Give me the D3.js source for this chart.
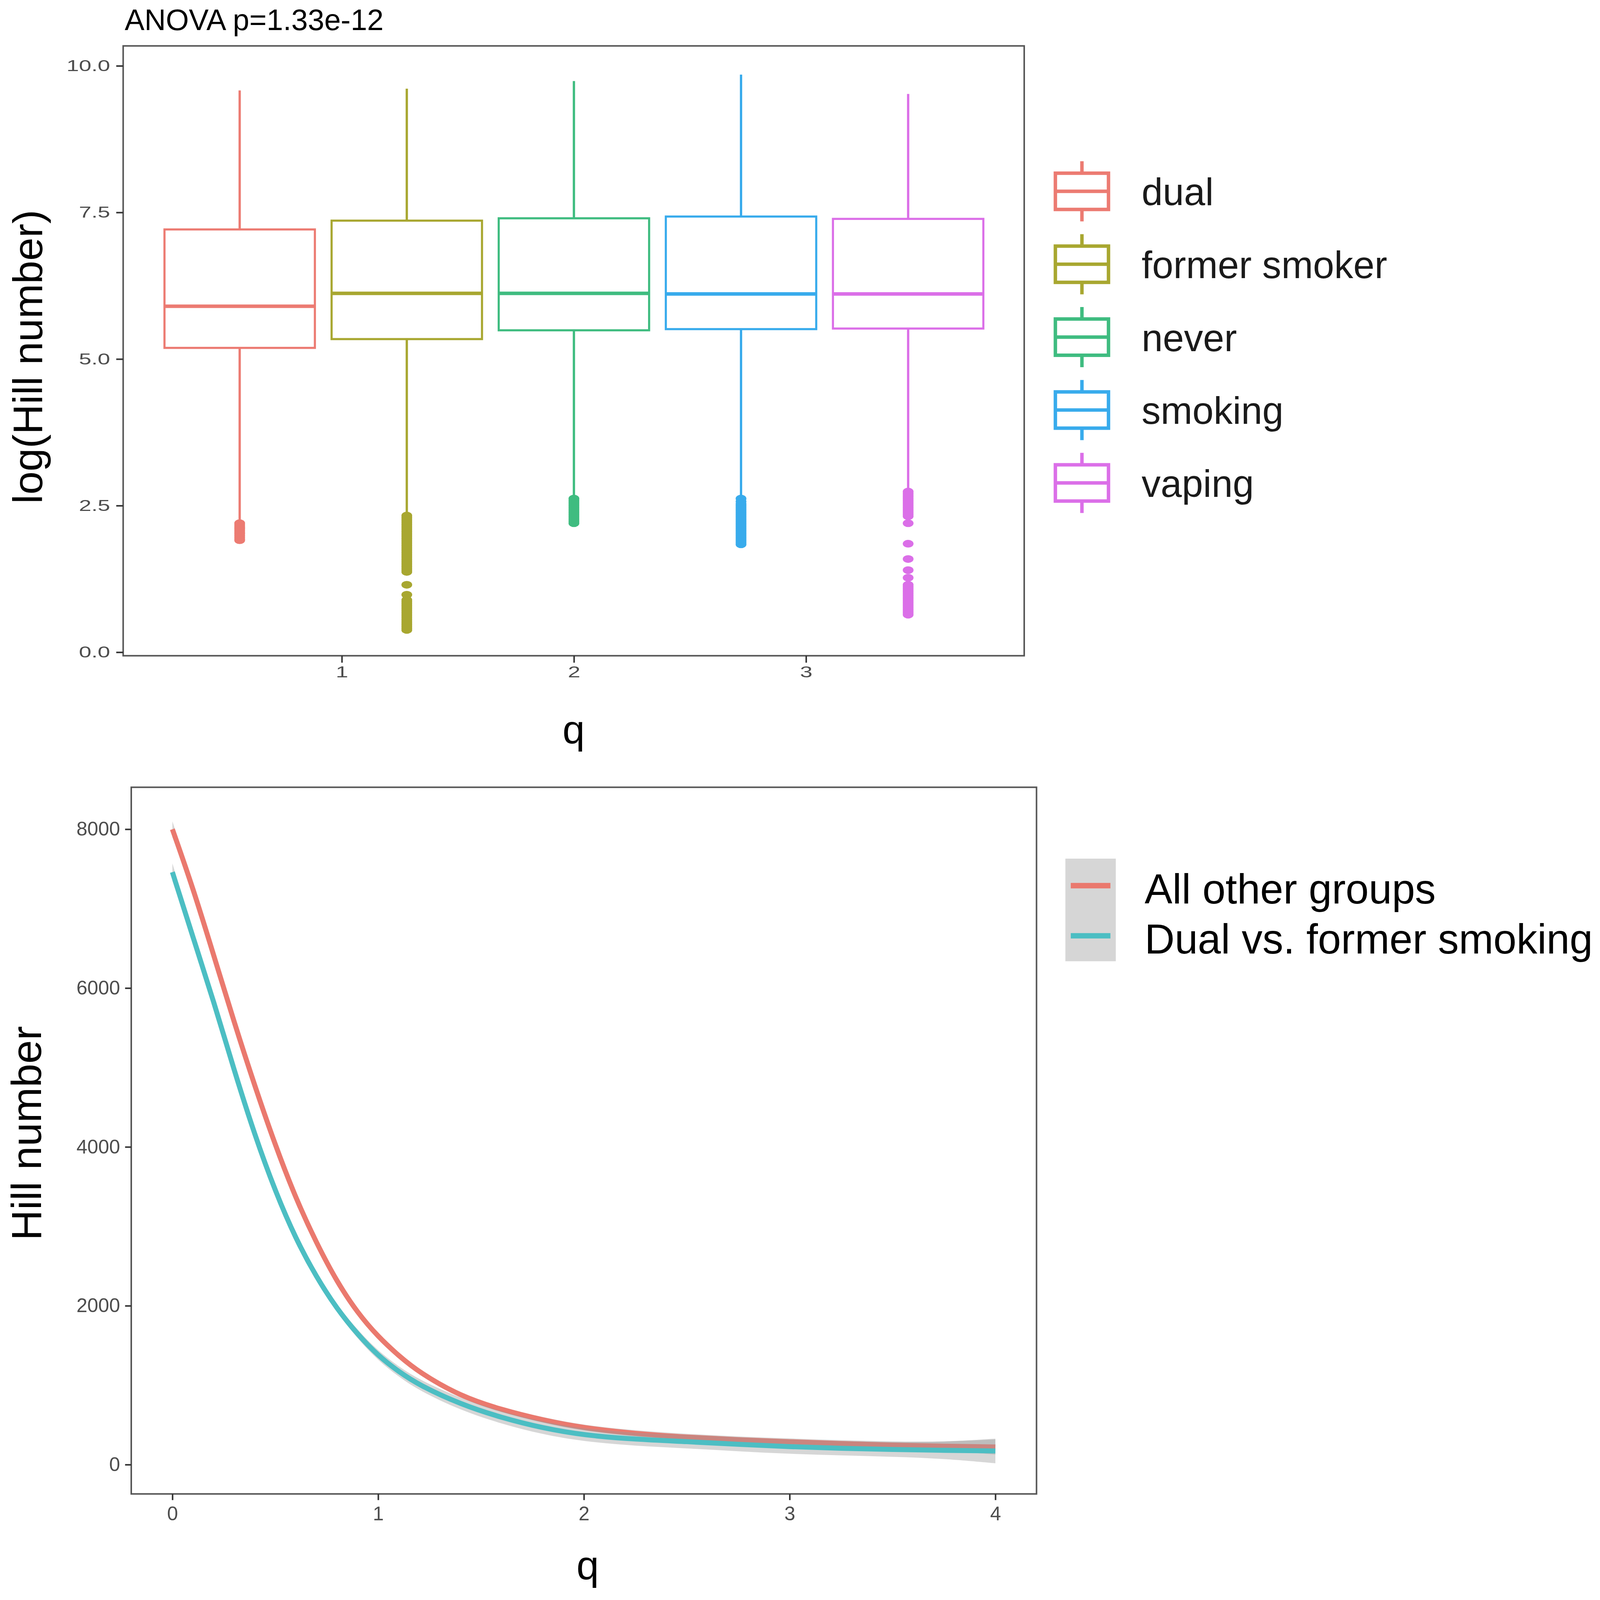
<!DOCTYPE html>
<html lang='en'>
	<head>
		<title>Hill numbers by group</title>
		<script type='text/javascript' src='https://cdn.jsdelivr.net/npm/d3@7/dist/d3.min.js'></script>
		<style>
			html, body { margin: 0; padding: 0; overflow: hidden; background: #ffffff; }
			svg { display: block; }
			text { font-family: 'Liberation Sans', Arial, Helvetica, sans-serif; }
		</style>
	</head>
	<body>
			<script type='text/javascript'>
			// ---- data: top panel (boxplots of log Hill number) ----
			var groups = ['dual', 'former smoker', 'never', 'smoking', 'vaping'];
			var groupColors = ['#EC7B72', '#A8A730', '#3FBC80', '#38ABEC', '#DB6FE8'];
			var boxHigh = [9.58, 9.61, 9.74, 9.85, 9.52];
			var boxQ3 = [7.21, 7.36, 7.40, 7.43, 7.39];
			var boxMed = [5.90, 6.12, 6.12, 6.11, 6.11];
			var boxQ1 = [5.19, 5.34, 5.49, 5.51, 5.52];
			var boxLow = [2.22, 2.38, 2.64, 2.64, 2.76];
			var outliers = [
				[2.20, 2.17, 2.14, 2.12, 2.10, 2.07, 2.04, 2.02, 1.99, 1.96, 1.93, 1.91],
				[2.33, 2.30, 2.27, 2.24, 2.21, 2.18, 2.15, 2.12, 2.09, 2.06, 2.03, 2.00, 1.97, 1.94, 1.91, 1.88, 1.85,
				 1.82, 1.79, 1.76, 1.73, 1.70, 1.67, 1.64, 1.61, 1.58, 1.55, 1.52, 1.49, 1.46, 1.43, 1.40, 1.37,
				 1.15, 0.98, 0.89, 0.86, 0.83, 0.80, 0.77, 0.74, 0.71, 0.68, 0.65, 0.62, 0.59, 0.56, 0.53, 0.50,
				 0.47, 0.44, 0.41, 0.38],
				[2.62, 2.59, 2.56, 2.53, 2.50, 2.47, 2.44, 2.41, 2.38, 2.35, 2.32, 2.29, 2.26, 2.23, 2.20],
				[2.62, 2.57, 2.53, 2.50, 2.47, 2.44, 2.41, 2.38, 2.35, 2.32, 2.29, 2.26, 2.23, 2.20, 2.17, 2.14, 2.11,
				 2.08, 2.05, 2.02, 1.99, 1.96, 1.93, 1.90, 1.87, 1.84],
				[2.74, 2.71, 2.68, 2.65, 2.62, 2.59, 2.56, 2.53, 2.50, 2.47, 2.44, 2.41, 2.38, 2.35, 2.32, 2.20,
				 1.85, 1.59, 1.40, 1.27, 1.15, 1.12, 1.09, 1.06, 1.03, 1.00, 0.97, 0.94, 0.91, 0.88, 0.85, 0.82,
				 0.79, 0.76, 0.73, 0.70, 0.67, 0.64]
			];
			var topYTicks = [0, 2.5, 5, 7.5, 10];
			var topXTicks = [1, 2, 3];
			var anovaLabel = 'ANOVA p=1.33e-12';

			// ---- data: bottom panel (smoothed Hill number curves) ----
			var series = ['All other groups', 'Dual vs. former smoking'];
			var seriesColors = ['#EA796E', '#4CBEC3'];
			var qGrid = [0, 0.1, 0.2, 0.3, 0.4, 0.5, 0.6, 0.7, 0.8, 0.9, 1.0, 1.1, 1.2, 1.4, 1.6, 1.8, 2.0, 2.25, 2.5, 2.75, 3.0, 3.25, 3.5, 3.75, 4.0];
			var otherHill = [8000, 7260, 6420, 5570, 4770, 4020, 3350, 2790, 2300, 1910, 1610, 1370, 1160, 860, 690, 560, 460, 390, 345, 312, 288, 265, 245, 232, 222];
			var otherSe = [100, 45, 32, 28, 26, 25, 25, 25, 25, 25, 26, 27, 28, 30, 32, 34, 36, 40, 42, 42, 42, 42, 45, 55, 95];
			var dualHill = [7460, 6640, 5840, 4965, 4150, 3440, 2840, 2360, 1960, 1640, 1370, 1170, 1000, 760, 590, 460, 370, 318, 290, 255, 225, 205, 190, 180, 172];
			var dualSe = [110, 55, 42, 40, 40, 40, 42, 45, 50, 55, 60, 64, 68, 75, 78, 80, 80, 82, 85, 88, 90, 90, 90, 105, 155];
			var botYTicks = [0, 2000, 4000, 6000, 8000];
			var botXTicks = [0, 1, 2, 3, 4];

			{
				var width = 4157, height = 4148;
				var svg_elem = d3.select('body').append('svg')
					.attr('width', window.innerWidth || width).attr('height', window.innerHeight || height)
					.attr('viewBox', '0 0 ' + width + ' ' + height)
					.attr('preserveAspectRatio', 'none')
				svg_elem.append('rect').attr('width', width).attr('height', height).attr('fill', '#ffffff')

				// ================= top panel =================
				var tp = {left: 320, right: 2661, top: 119, bottom: 1700};
				var top_x = d3.scaleLinear().domain([0.058, 3.94]).range([tp.left, tp.right])
				var top_y = d3.scaleLinear().domain([-0.06, 10.34]).range([tp.bottom, tp.top])
				// dodge positions of the five groups
				var dodge = d3.scaleBand().domain(groups).range([top_x(0.2), top_x(3.8)]).paddingInner(0.1).paddingOuter(0.05)
				var bw = dodge.bandwidth();

				svg_elem.append('text')
					.attr('x', 324).attr('y', 78)
					.attr('font-size', 77).attr('fill', '#000')
					.text(anovaLabel)

				var boxes = svg_elem.append('g').attr('id', 'boxes')
				groups.forEach(function(g, i) {
					var cx = dodge(g) + bw / 2, col = groupColors[i];
					var bg = boxes.append('g')
					bg.append('line')
						.attr('x1', cx).attr('x2', cx).attr('y1', top_y(boxHigh[i])).attr('y2', top_y(boxQ3[i]))
						.attr('stroke', col).attr('stroke-width', 6)
					bg.append('line')
						.attr('x1', cx).attr('x2', cx).attr('y1', top_y(boxQ1[i])).attr('y2', top_y(boxLow[i]))
						.attr('stroke', col).attr('stroke-width', 6)
					bg.append('rect')
						.attr('x', cx - bw / 2).attr('y', top_y(boxQ3[i]))
						.attr('width', bw).attr('height', top_y(boxQ1[i]) - top_y(boxQ3[i]))
						.attr('fill', '#ffffff').attr('stroke', col).attr('stroke-width', 5.5)
					bg.append('line')
						.attr('x1', cx - bw / 2).attr('x2', cx + bw / 2).attr('y1', top_y(boxMed[i])).attr('y2', top_y(boxMed[i]))
						.attr('stroke', col).attr('stroke-width', 9)
					bg.selectAll('ellipse').data(outliers[i]).enter().append('ellipse')
						.attr('cx', cx)
						.attr('cy', d => top_y(d))
						.attr('rx', 14).attr('ry', 10)
						.attr('fill', col)
				})

				svg_elem.append('rect')
					.attr('x', tp.left).attr('y', tp.top)
					.attr('width', tp.right - tp.left).attr('height', tp.bottom - tp.top)
					.attr('fill', 'none').attr('stroke', '#555555').attr('stroke-width', 4)

				// the upper panel's tick labels are drawn wider than tall
				var stretch = 1.42;
				function widen(sel, anchor, gap) {
					sel.each(function() {
						var w = this.getComputedTextLength() * stretch;
						d3.select(this)
							.attr('text-anchor', 'start')
							.attr('x', anchor == 'end' ? -gap - w : -w / 2)
							.attr('textLength', w).attr('lengthAdjust', 'spacingAndGlyphs')
					})
				}
				// left axis
				var top_left = svg_elem.append('g')
					.attr('id', 'topleftaxis')
					.attr('transform', 'translate(' + tp.left + ',0)')
					.call(d3.axisLeft(top_y).tickValues(topYTicks).tickFormat(d3.format('.1f')).tickSize(18).tickPadding(16))
				top_left.select('.domain').remove()
				top_left.selectAll('line').attr('stroke', '#333333').attr('stroke-width', 4)
				top_left.selectAll('text').attr('font-size', 41).attr('fill', '#4d4d4d').call(widen, 'end', 34)
				// bottom axis
				var top_bottom = svg_elem.append('g')
					.attr('id', 'topbottomaxis')
					.attr('transform', 'translate(0,' + tp.bottom + ')')
					.call(d3.axisBottom(top_x).tickValues(topXTicks).tickFormat(d3.format('d')).tickSize(18).tickPadding(9))
				top_bottom.select('.domain').remove()
				top_bottom.selectAll('line').attr('stroke', '#333333').attr('stroke-width', 4)
				top_bottom.selectAll('text').attr('font-size', 41).attr('fill', '#4d4d4d').call(widen, 'middle', 0)

				svg_elem.append('text')
					.attr('transform', 'translate(110,925) rotate(-90)')
					.attr('text-anchor', 'middle').attr('font-size', 108).attr('fill', '#000')
					.text('log(Hill number)')
				svg_elem.append('text')
					.attr('x', (tp.left + tp.right) / 2).attr('y', 1927)
					.attr('text-anchor', 'middle').attr('font-size', 104).attr('fill', '#000')
					.text('q')

				// legend for boxplots
				var leg1 = svg_elem.append('g').attr('id', 'boxlegend')
				groups.forEach(function(g, i) {
					var ky = 496 + i * 189, kx = 2811, col = groupColors[i];
					leg1.append('line').attr('x1', kx).attr('x2', kx).attr('y1', ky - 78).attr('y2', ky + 78)
						.attr('stroke', col).attr('stroke-width', 9)
					leg1.append('rect').attr('x', kx - 69).attr('y', ky - 47).attr('width', 138).attr('height', 94)
						.attr('fill', '#ffffff').attr('stroke', col).attr('stroke-width', 9)
					leg1.append('line').attr('x1', kx - 69).attr('x2', kx + 69).attr('y1', ky).attr('y2', ky)
						.attr('stroke', col).attr('stroke-width', 9)
					leg1.append('text').attr('x', 2966).attr('y', ky + 36)
						.attr('font-size', 99).attr('fill', '#1a1a1a')
						.text(g)
				})

				// ================= bottom panel =================
				var bp = {left: 341, right: 2693, top: 2041, bottom: 3873};
				var bot_x = d3.scaleLinear().domain([-0.2, 4.2]).range([bp.left, bp.right])
				var bot_y = d3.scaleLinear().domain([-369, 8528]).range([bp.bottom, bp.top])

				var curves = [
					qGrid.map((q, i) => ({q: q, v: otherHill[i], se: otherSe[i]})),
					qGrid.map((q, i) => ({q: q, v: dualHill[i], se: dualSe[i]}))
				];
				var ribbon = d3.area().curve(d3.curveBasis)
					.x(d => bot_x(d.q)).y0(d => bot_y(d.v - d.se)).y1(d => bot_y(d.v + d.se))
				var line = d3.line().curve(d3.curveBasis)
					.x(d => bot_x(d.q)).y(d => bot_y(d.v))

				var smooth = svg_elem.append('g').attr('id', 'smooth')
				curves.forEach(function(c, i) {
					smooth.append('path').attr('d', ribbon(c))
						.attr('fill', '#999999').attr('fill-opacity', 0.4)
					smooth.append('path').attr('d', line(c))
						.attr('fill', 'none').attr('stroke', seriesColors[i]).attr('stroke-width', 13)
				})

				svg_elem.append('rect')
					.attr('x', bp.left).attr('y', bp.top)
					.attr('width', bp.right - bp.left).attr('height', bp.bottom - bp.top)
					.attr('fill', 'none').attr('stroke', '#555555').attr('stroke-width', 4)

				var bot_left = svg_elem.append('g')
					.attr('id', 'botleftaxis')
					.attr('transform', 'translate(' + bp.left + ',0)')
					.call(d3.axisLeft(bot_y).tickValues(botYTicks).tickFormat(d3.format('d')).tickSize(16).tickPadding(13))
				bot_left.select('.domain').remove()
				bot_left.selectAll('line').attr('stroke', '#333333').attr('stroke-width', 4)
				bot_left.selectAll('text').attr('font-size', 51).attr('fill', '#4d4d4d')

				var bot_bottom = svg_elem.append('g')
					.attr('id', 'botbottomaxis')
					.attr('transform', 'translate(0,' + bp.bottom + ')')
					.call(d3.axisBottom(bot_x).tickValues(botXTicks).tickFormat(d3.format('d')).tickSize(16).tickPadding(16))
				bot_bottom.select('.domain').remove()
				bot_bottom.selectAll('line').attr('stroke', '#333333').attr('stroke-width', 4)
				bot_bottom.selectAll('text').attr('font-size', 51).attr('fill', '#4d4d4d')

				svg_elem.append('text')
					.attr('transform', 'translate(107,2938) rotate(-90)')
					.attr('text-anchor', 'middle').attr('font-size', 110).attr('fill', '#000')
					.text('Hill number')
				svg_elem.append('text')
					.attr('x', 1527).attr('y', 4094)
					.attr('text-anchor', 'middle').attr('font-size', 105).attr('fill', '#000')
					.text('q')

				// legend for curves
				var leg2 = svg_elem.append('g').attr('id', 'curvelegend')
				leg2.append('rect').attr('x', 2768).attr('y', 2226).attr('width', 131).attr('height', 266)
					.attr('fill', '#999999').attr('fill-opacity', 0.4)
				series.forEach(function(s, i) {
					var ky = 2296 + i * 130;
					leg2.append('line').attr('x1', 2782).attr('x2', 2885).attr('y1', ky).attr('y2', ky)
						.attr('stroke', seriesColors[i]).attr('stroke-width', 14)
					leg2.append('text').attr('x', 2974).attr('y', ky + 46)
						.attr('font-size', 108).attr('fill', '#000')
						.text(s)
				})
			}
			</script>
	</body>
</html>
